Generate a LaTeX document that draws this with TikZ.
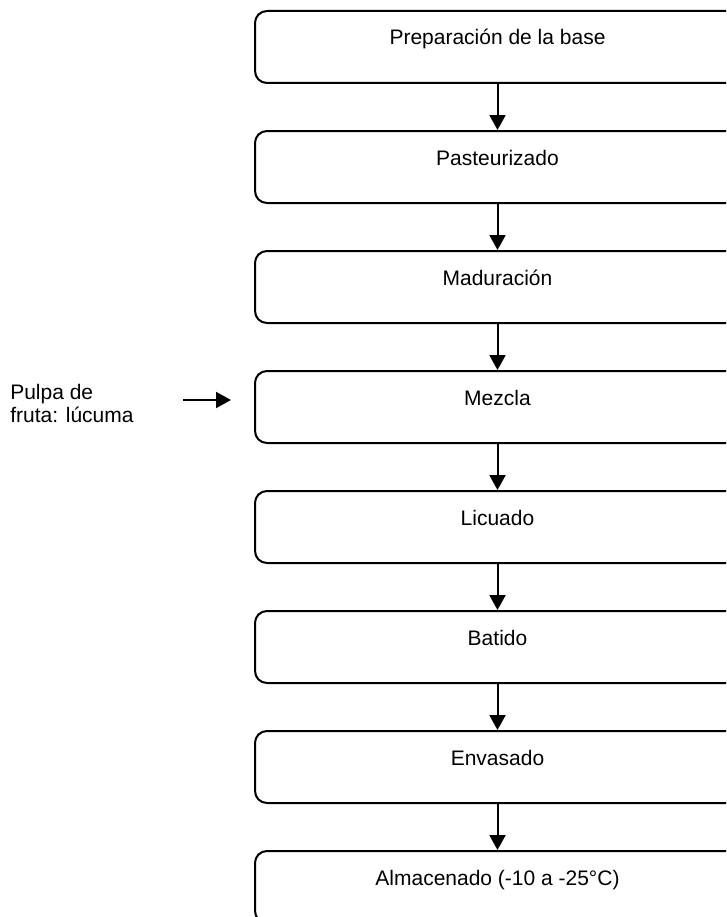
\documentclass[tikz,border=0pt]{standalone}
\usepackage{fontspec}
\setmainfont{Liberation Sans}
\usetikzlibrary{arrows.meta}

\tikzset{
	etapa/.style={draw, line width=1.5pt, rounded corners=9pt, minimum width=363.75pt,
		inner ysep=0pt, text height=25.5pt, text depth=28.5pt},
	flecha/.style={line width=1.5pt, -{Triangle[length=11.25pt,width=12pt]}},
}

\begin{document}
\begin{tikzpicture}[x=0.75pt,y=-0.75pt,font=\fontsize{15.75}{17.25}\selectfont]

	\useasboundingbox (0,0) rectangle (726,917);
	\clip (0,0) rectangle (726,917);

	\node[etapa] (prep) at (497.5,47)  {Preparación de la base};
	\node[etapa] (past) at (497.5,167) {Pasteurizado};
	\node[etapa] (madu) at (497.5,287) {Maduración};
	\node[etapa] (mezc) at (497.5,407) {Mezcla};
	\node[etapa] (licu) at (497.5,527) {Licuado};
	\node[etapa] (bati) at (497.5,647) {Batido};
	\node[etapa] (enva) at (497.5,767) {Envasado};
	\node[etapa] (alma) at (497.5,887) {Almacenado (-10 a -25°C)};

	\draw[flecha] (prep) -- (past);
	\draw[flecha] (past) -- (madu);
	\draw[flecha] (madu) -- (mezc);
	\draw[flecha] (mezc) -- (licu);
	\draw[flecha] (licu) -- (bati);
	\draw[flecha] (bati) -- (enva);
	\draw[flecha] (enva) -- (alma);

	% entrada de la pulpa
	\node[anchor=north west, inner sep=0pt, align=left] (pulpa) at (10,384) {Pulpa de\\fruta: lúcuma};
	\coordinate (pulpa-a) at (183,400);
	\coordinate (pulpa-b) at (231,400);
	\draw[flecha] (pulpa-a) -- (pulpa-b);

\end{tikzpicture}
\end{document}
